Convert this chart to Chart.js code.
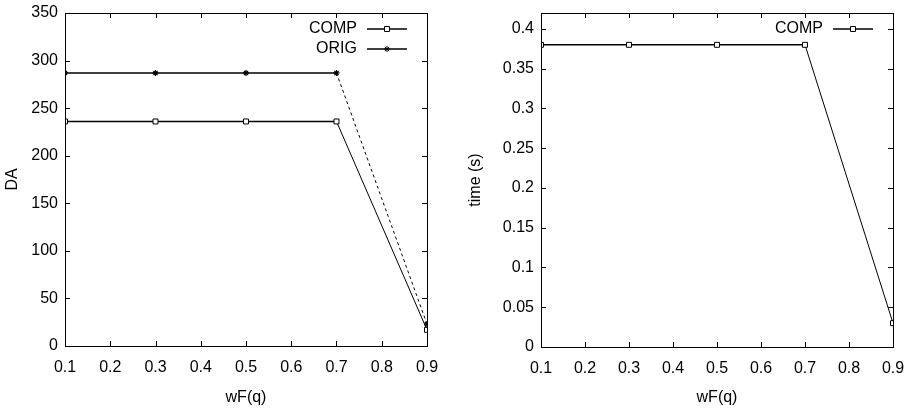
<!DOCTYPE html>
<html>
<head>
<meta charset="utf-8">
<script src="https://cdn.jsdelivr.net/npm/chart.js@4"></script>
<style>
  body { margin: 0; background: #fff; }
  .wrap { display: flex; width: 910px; height: 409px; }
  .box { position: relative; width: 455px; height: 409px; }
</style>
</head>
<body>
<div class="wrap">
  <div class="box"><canvas id="daChart" width="455" height="409"></canvas></div>
  <div class="box"><canvas id="timeChart" width="455" height="409"></canvas></div>
</div>
<script>
// x values (wF(q))
let wf = [0.1, 0.3, 0.5, 0.7, 0.9];

// left chart: DA
let daComp = [236, 236, 236, 236, 17];
let daOrig = [287, 287, 287, 287, 23];

// right chart: time (s)
let timeComp = [0.38, 0.38, 0.38, 0.38, 0.03];

let xTicks = [0.1, 0.2, 0.3, 0.4, 0.5, 0.6, 0.7, 0.8, 0.9];

const FONT = { family: '"Liberation Sans", Arial, sans-serif', size: 16 };

function points(xs, ys) {
    let out = [];
    xs.forEach(function (x, i) {
        out.push({ x: x, y: ys[i] });
    });
    return out;
}

// gnuplot-like frame, inward tick marks and legend inside the plot
const gnuFrame = {
    id: 'gnuFrame',
    afterDraw(chart) {
        const ctx = chart.ctx;
        const a = chart.chartArea;
        const len = 5;
        ctx.save();
        ctx.strokeStyle = '#000';
        ctx.lineWidth = 1;
        ctx.strokeRect(Math.round(a.left) + 0.5, Math.round(a.top) + 0.5,
            Math.round(a.right - a.left), Math.round(a.bottom - a.top));
        ctx.beginPath();
        chart.scales.x.ticks.forEach(function (t) {
            const px = Math.round(chart.scales.x.getPixelForValue(t.value)) + 0.5;
            ctx.moveTo(px, a.bottom);
            ctx.lineTo(px, a.bottom - len);
            ctx.moveTo(px, a.top);
            ctx.lineTo(px, a.top + len);
        });
        chart.scales.y.ticks.forEach(function (t) {
            const py = Math.round(chart.scales.y.getPixelForValue(t.value)) + 0.5;
            ctx.moveTo(a.left, py);
            ctx.lineTo(a.left + len, py);
            ctx.moveTo(a.right, py);
            ctx.lineTo(a.right - len, py);
        });
        ctx.stroke();

        // legend
        ctx.font = FONT.size + 'px ' + FONT.family;
        ctx.textAlign = 'right';
        ctx.textBaseline = 'middle';
        chart.data.datasets.forEach(function (ds, i) {
            const y = a.top + 16 + i * 20;
            ctx.fillStyle = '#000';
            ctx.fillText(ds.label, a.right - 70, y);
            ctx.beginPath();
            ctx.lineWidth = 1.5;
            ctx.strokeStyle = '#000';
            ctx.moveTo(a.right - 60, y);
            ctx.lineTo(a.right - 20, y);
            ctx.stroke();
            ctx.fillStyle = ds.pointBackgroundColor;
            ctx.lineWidth = 1;
            Chart.helpers.drawPoint(ctx, {
                pointStyle: ds.pointStyle,
                radius: ds.pointRadius,
                rotation: 0,
                borderWidth: 1
            }, a.right - 40, y);
        });
        ctx.restore();
    }
};

function fmt(v) {
    return String(Math.round(v * 1000) / 1000);
}

function makeOptions(yTitle, yMin, yMax, yStep, yWidth, xHeight, padRight, titlePad) {
    return {
        responsive: false,
        animation: false,
        layout: { padding: { top: 13, right: padRight, left: 0, bottom: 0 } },
        plugins: { legend: { display: false }, tooltip: { enabled: false } },
        scales: {
            x: {
                type: 'linear',
                min: 0.1,
                max: 0.9,
                afterBuildTicks: function (scale) {
                    scale.ticks = xTicks.map(function (v) { return { value: v }; });
                },
                grid: { display: false, drawTicks: false },
                border: { display: false },
                ticks: { color: '#000', font: FONT, padding: 12, maxRotation: 0, autoSkip: false, callback: fmt },
                title: { display: true, text: 'wF(q)', color: '#000', font: FONT, padding: { top: 4, bottom: 2 } },
                afterFit: function (scale) {
                    scale.height = xHeight;
                    scale.paddingLeft = 0;
                    scale.paddingRight = 0;
                }
            },
            y: {
                min: yMin,
                max: yMax,
                afterBuildTicks: function (scale) {
                    let t = [];
                    for (let v = yMin; v <= yMax + 1e-9; v += yStep) {
                        t.push({ value: Math.round(v * 1000) / 1000 });
                    }
                    scale.ticks = t;
                },
                grid: { display: false, drawTicks: false },
                border: { display: false },
                ticks: { color: '#000', font: FONT, padding: 7, autoSkip: false, callback: fmt },
                title: { display: true, text: yTitle, color: '#000', font: FONT, padding: { top: titlePad, bottom: 0 } },
                afterFit: function (scale) {
                    scale.width = yWidth;
                    scale.paddingTop = 0;
                    scale.paddingBottom = 0;
                }
            }
        }
    };
}

new Chart(document.getElementById('daChart'), {
    type: 'line',
    data: {
        datasets: [{
            label: 'COMP',
            data: points(wf, daComp),
            borderColor: '#000',
            borderWidth: 1.5,
            pointStyle: 'rect',
            pointRadius: 3.5,
            pointBorderWidth: 1,
            pointBorderColor: '#000',
            pointBackgroundColor: '#fff',
            segment: { borderWidth: function (c) { return c.p0DataIndex === 3 ? 1 : undefined; } },
            fill: false
        }, {
            label: 'ORIG',
            data: points(wf, daOrig),
            borderColor: '#000',
            borderWidth: 1.5,
            pointStyle: 'star',
            pointRadius: 3,
            pointBorderWidth: 1.2,
            pointBorderColor: '#000',
            pointBackgroundColor: '#000',
            segment: {
                borderDash: function (c) { return c.p0DataIndex === 3 ? [3, 3] : undefined; },
                borderWidth: function (c) { return c.p0DataIndex === 3 ? 1 : undefined; }
            },
            fill: false
        }]
    },
    options: makeOptions('DA', 0, 350, 50, 65, 63, 28, 3),
    plugins: [gnuFrame]
});

new Chart(document.getElementById('timeChart'), {
    type: 'line',
    data: {
        datasets: [{
            label: 'COMP',
            data: points(wf, timeComp),
            borderColor: '#000',
            borderWidth: 1.5,
            pointStyle: 'rect',
            pointRadius: 3.5,
            pointBorderWidth: 1,
            pointBorderColor: '#000',
            pointBackgroundColor: '#fff',
            segment: { borderWidth: function (c) { return c.p0DataIndex === 3 ? 1 : undefined; } },
            fill: false
        }]
    },
    options: makeOptions('time (s)', 0, 0.42, 0.05, 86, 62, 17, 11),
    plugins: [gnuFrame]
});
</script>
</body>
</html>
